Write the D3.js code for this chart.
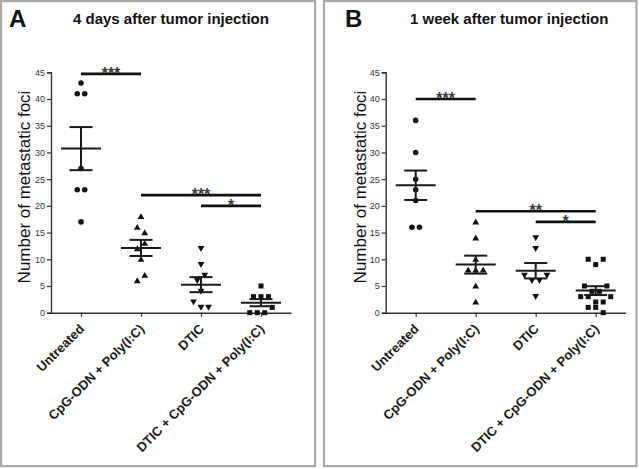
<!DOCTYPE html>
<html>
<head>
<meta charset="utf-8">
<script src="https://cdn.jsdelivr.net/npm/d3@7"></script>
<style>
  html, body { margin: 0; padding: 0; background: #fff; }
  svg { display: block; font-family: "Liberation Sans", Arial, sans-serif; }
</style>
</head>
<body>
<svg id="chart" width="639" height="469"></svg>
<script>
// ---------------- data ----------------
const categories = ["Untreated", "CpG-ODN + Poly(I:C)", "DTIC", "DTIC + CpG-ODN + Poly(I:C)"];
const yTicks = [0, 5, 10, 15, 20, 25, 30, 35, 40, 45];

// Panel A: 4 days after tumor injection
const aUntreated = [43, 41, 41, 27, 23, 23, 17];
const aCpG       = [18, 16, 15, 12, 13, 10, 6, 7];
const aDTIC      = [12, 9, 6, 7, 4, 2, 1, 1];
const aCombo     = [5, 3, 3, 3, 0, 0, 0, 1];
const aSig = [
  { from: 0, to: 1, y: 44.7, label: "***" },
  { from: 1, to: 3, y: 22,   label: "***" },
  { from: 2, to: 3, y: 20,   label: "*" }
];

// Panel B: 1 week after tumor injection
const bUntreated = [36, 30, 25, 23, 21, 16, 16];
const bCpG       = [17, 14, 10, 8, 8, 8, 5, 2];
const bDTIC      = [14, 12, 7, 6, 6, 7, 3];
const bCombo     = [10, 9, 10, 5, 4, 4, 5, 3, 3, 2, 2, 3, 1, 1, 0];
const bSig = [
  { from: 0, to: 1, y: 40, label: "***" },
  { from: 1, to: 3, y: 19, label: "**" },
  { from: 2, to: 3, y: 17, label: "*" }
];

const yLabel = "Number of metastatic foci";

// ---------------- drawing ----------------
const svg = d3.select("#chart");
const symbolTypes = [d3.symbolCircle, d3.symbolTriangle, d3.symbolTriangle, d3.symbolSquare];
const symbolSizes = [24, 20, 20, 25];
const symbolRotate = [0, 0, 180, 0];

function layoutOffsets(values, ky, spacing) {
  // group points into horizontal rows (close values) and spread symmetrically
  const idx = values.map((v, i) => i).sort((a, b) => values[b] - values[a] || a - b);
  const rows = [];
  idx.forEach(i => {
    const last = rows[rows.length - 1];
    if (last && Math.abs(values[last[0]] - values[i]) * ky < 6) last.push(i);
    else rows.push([i]);
  });
  const off = new Array(values.length).fill(0);
  rows.forEach(r => {
    r.sort((a, b) => a - b);
    r.forEach((i, k) => { off[i] = (k - (r.length - 1) / 2) * spacing; });
  });
  return off;
}

function drawPanel(cfg) {
  const g = svg.append("g");
  // frame
  g.append("rect")
    .attr("x", cfg.frame[0]).attr("y", cfg.frame[1])
    .attr("width", cfg.frame[2]).attr("height", cfg.frame[3])
    .attr("fill", "none").attr("stroke", "#a9a9a9").attr("stroke-width", 2.2);

  // letter + title
  g.append("text").attr("x", cfg.letterX).attr("y", 27)
    .attr("font-size", 24).attr("font-weight", "bold").attr("fill", "#111")
    .text(cfg.letter);
  g.append("text").attr("x", cfg.titleX).attr("y", 24)
    .attr("font-size", 15).attr("font-weight", "bold").attr("fill", "#111")
    .text(cfg.title);

  const x = d3.scalePoint().domain(categories).range([cfg.x0, cfg.x0 + 240]).padding(0.5);
  const y = d3.scaleLinear().domain([0, 45]).range([312.7, 72.3]);
  const ky = Math.abs(y(1) - y(0));

  // y axis
  const yAxis = g.append("g").attr("transform", `translate(${cfg.x0},0)`)
    .call(d3.axisLeft(y).tickValues(yTicks).tickSize(4).tickPadding(2).tickFormat(d3.format("d")));
  yAxis.select(".domain").attr("stroke", "#333").attr("stroke-width", 1.4);
  yAxis.selectAll(".tick line").attr("stroke", "#333").attr("stroke-width", 1.2);
  yAxis.selectAll(".tick text").attr("font-size", 9).attr("fill", "#333")
    .attr("font-family", "Liberation Sans, Arial, sans-serif");

  // x axis
  const xAxis = g.append("g").attr("transform", `translate(0,${y(0)})`)
    .call(d3.axisBottom(x).tickSize(4).tickSizeOuter(0).tickFormat(""));
  xAxis.select(".domain").attr("stroke", "#333").attr("stroke-width", 1.4);
  xAxis.selectAll(".tick line").attr("stroke", "#333").attr("stroke-width", 1.2);

  // x labels
  g.selectAll("text.xlab").data(categories).join("text")
    .attr("class", "xlab")
    .attr("transform", d => `translate(${x(d) + 4},${y(0) + 17}) rotate(-45)`)
    .attr("text-anchor", "end")
    .attr("font-size", 13).attr("font-weight", "bold").attr("fill", "#1a1a1a")
    .text(d => d);

  // y label
  g.append("text")
    .attr("transform", `translate(${cfg.yLabelX},187) rotate(-90)`)
    .attr("text-anchor", "middle").attr("font-size", 17).attr("fill", "#111")
    .text(yLabel);

  // points + mean/SEM
  cfg.series.forEach((vals, ci) => {
    const cx = x(categories[ci]);
    const offs = layoutOffsets(vals, ky, 7.5);
    const sym = d3.symbol().type(symbolTypes[ci]).size(symbolSizes[ci]);
    g.append("g").selectAll("path").data(vals).join("path")
      .attr("d", sym)
      .attr("transform", (d, i) => {
        let cyy = y(d);
        if (ci === 1) cyy += 0.6;
        if (ci === 2) cyy -= 0.6;
        return `translate(${cx + offs[i]},${cyy}) rotate(${symbolRotate[ci]})`;
      })
      .attr("fill", "#111");

    const m = d3.mean(vals);
    const sem = d3.deviation(vals) / Math.sqrt(vals.length);
    const eg = g.append("g").attr("stroke", "#1a1a1a").attr("stroke-width", 2);
    eg.append("line").attr("x1", cx - 20).attr("x2", cx + 20).attr("y1", y(m)).attr("y2", y(m));
    eg.append("line").attr("x1", cx).attr("x2", cx).attr("y1", y(m + sem)).attr("y2", y(m - sem));
    eg.append("line").attr("x1", cx - 11.5).attr("x2", cx + 11.5).attr("y1", y(m + sem)).attr("y2", y(m + sem));
    eg.append("line").attr("x1", cx - 11.5).attr("x2", cx + 11.5).attr("y1", y(m - sem)).attr("y2", y(m - sem));
  });

  // significance bars
  cfg.sig.forEach(s => {
    const x1 = x(categories[s.from]), x2 = x(categories[s.to]);
    g.append("line").attr("x1", x1).attr("x2", x2).attr("y1", y(s.y)).attr("y2", y(s.y))
      .attr("stroke", "#111").attr("stroke-width", 2.6);
    g.append("text").attr("x", (x1 + x2) / 2).attr("y", y(s.y) + 5)
      .attr("text-anchor", "middle").attr("font-size", 16).attr("font-weight", "bold")
      .attr("fill", "#3a3a3a")
      .text(s.label);
  });
}

drawPanel({
  frame: [1.1, 1.1, 314, 465],
  letter: "A", letterX: 9, title: "4 days after tumor injection", titleX: 73,
  x0: 51, yLabelX: 30,
  series: [aUntreated, aCpG, aDTIC, aCombo], sig: aSig
});
drawPanel({
  frame: [324, 1.1, 312.5, 465],
  letter: "B", letterX: 345, title: "1 week after tumor injection", titleX: 410,
  x0: 385.7, yLabelX: 366,
  series: [bUntreated, bCpG, bDTIC, bCombo], sig: bSig
});
</script>
</body>
</html>
